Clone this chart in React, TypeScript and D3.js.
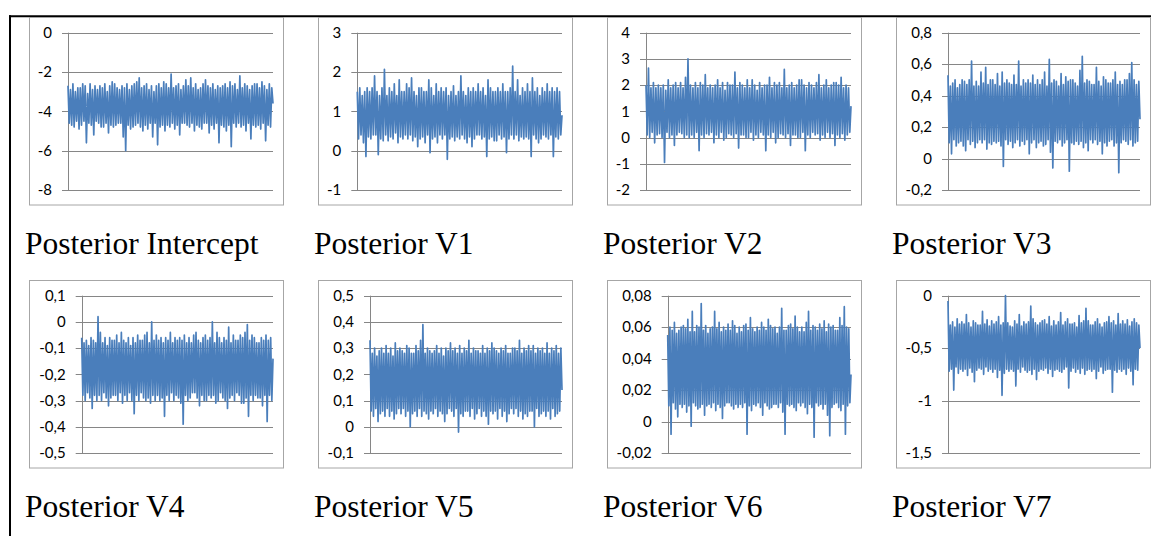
import * as d3 from "d3";

// trace panels (one array of samples per parameter)
const TITLES = [
  "Posterior Intercept",
  "Posterior V1",
  "Posterior V2",
  "Posterior V3",
  "Posterior V4",
  "Posterior V5",
  "Posterior V6",
  "Posterior V7",
];

const INTERCEPT_TICKS = [-8, -6, -4, -2, 0];
const V1_TICKS = [-1, 0, 1, 2, 3];
const V2_TICKS = [-2, -1, 0, 1, 2, 3, 4];
const V3_TICKS = [-0.2, 0, 0.2, 0.4, 0.6, 0.8];
const V4_TICKS = [-0.5, -0.4, -0.3, -0.2, -0.1, 0, 0.1];
const V5_TICKS = [-0.1, 0, 0.1, 0.2, 0.3, 0.4, 0.5];
const V6_TICKS = [-0.02, 0, 0.02, 0.04, 0.06, 0.08];
const V7_TICKS = [-1.5, -1, -0.5, 0];

const INTERCEPT = [
  -2.7, -4.6, -2.9, -4.7, -2.6, -4.8, -3.0, -4.5, -2.8, -4.9, -2.8, -4.7, -2.6, -4.5,
  -2.7, -5.6, -3.1, -4.6, -2.6, -4.7, -2.9, -5.2, -2.7, -4.5, -2.9, -4.6, -2.7, -4.8,
  -2.8, -4.8, -2.6, -4.6, -3.0, -5.1, -2.7, -4.7, -2.5, -4.8, -2.6, -4.7, -2.8, -4.6,
  -2.9, -4.6, -2.7, -5.3, -2.8, -6.0, -2.6, -4.7, -2.9, -4.9, -2.7, -4.8, -2.6, -4.7,
  -2.5, -4.6, -2.3, -4.8, -2.8, -5.0, -2.7, -4.7, -2.6, -4.9, -2.9, -4.6, -2.7, -5.3,
  -3.0, -4.6, -2.7, -5.7, -2.6, -4.8, -2.8, -4.7, -2.5, -5.0, -2.6, -4.7, -2.8, -4.8,
  -2.1, -4.6, -2.8, -4.9, -2.7, -4.7, -2.6, -5.2, -2.9, -4.6, -2.7, -4.6, -2.4, -4.7,
  -2.7, -4.8, -2.3, -4.6, -2.8, -5.0, -2.6, -4.7, -2.9, -4.8, -2.8, -4.9, -2.6, -4.6,
  -2.4, -4.6, -2.7, -5.1, -2.8, -4.7, -2.6, -4.9, -2.9, -4.6, -2.7, -5.6, -2.8, -4.7,
  -2.7, -4.8, -2.6, -5.0, -2.8, -4.7, -2.5, -5.8, -2.7, -4.6, -2.6, -4.8, -2.9, -4.6,
  -2.2, -4.8, -2.8, -4.7, -2.6, -5.0, -2.7, -4.6, -2.9, -5.4, -2.7, -4.7, -2.6, -4.8,
  -2.6, -4.7, -2.8, -4.9, -2.5, -4.6, -2.7, -5.5, -2.9, -4.7, -2.6, -4.8, -2.8, -3.6,
];

const V1 = [
  1.5, 0.3, 1.6, 0.4, 1.4, 0.2, 1.5, -0.15, 1.6, 0.35, 1.5, 0.3, 1.6, 0.4,
  1.9, 0.4, 1.5, -0.1, 1.4, 0.3, 1.6, 0.25, 2.07, 0.4, 1.4, 0.25, 1.6, 0.35,
  1.5, 0.3, 1.7, 0.45, 1.4, 0.2, 1.8, 0.35, 1.5, 0.3, 1.5, 0.4, 1.7, 0.3,
  1.6, 0.4, 1.85, 0.25, 1.5, 0.35, 1.4, 0.1, 1.6, 0.3, 1.6, 0.35, 1.5, 0.2,
  1.5, 0.4, 1.8, -0.05, 1.6, 0.3, 1.4, 0.35, 1.7, 0.2, 1.5, 0.4, 1.6, 0.3,
  1.5, 0.4, 1.6, -0.22, 1.4, 0.3, 1.5, 0.35, 1.65, 0.25, 1.4, 0.35, 1.5, 0.3,
  1.9, 0.4, 1.5, 0.3, 1.4, 0.2, 1.6, 0.35, 1.5, 0.1, 1.6, 0.3, 1.5, 0.4,
  1.7, 0.4, 1.5, 0.3, 1.6, 0.35, 1.4, -0.15, 1.8, 0.3, 1.6, 0.35, 1.5, 0.25,
  1.5, 0.25, 1.6, 0.4, 1.5, 0.3, 1.7, 0.35, 1.5, -0.05, 1.5, 0.3, 1.6, 0.4,
  2.15, 0.3, 1.5, 0.4, 1.8, 0.25, 1.4, 0.35, 1.6, 0.3, 1.5, 0.35, 1.7,
  0.3, 1.5, -0.15, 1.85, 0.4, 1.5, 0.3, 1.6, 0.2, 1.4, 0.3, 1.6, 0.4, 1.5,
  0.35, 1.7, 0.3, 1.5, 0.4, 1.6, -0.15, 1.5, 0.35, 1.6, 0.3, 1.5, 0.4, 0.9,
];

const V2 = [
  2.0, 0.1, 2.65, 0.0, 1.9, 0.2, 2.1, -0.2, 1.9, 0.1, 2.0, 0.15, 1.9, 0.0,
  2.0, -0.95, 1.8, 0.2, 2.2, 0.0, 1.9, 0.1, 2.0, -0.3, 2.1, 0.1, 1.9, 0.2,
  2.1, 0.15, 1.9, 0.0, 2.3, 0.1, 3.0, 0.0, 2.0, 0.1, 1.9, 0.0, 2.1,
  0.2, 1.9, -0.5, 2.1, 0.1, 2.0, 0.0, 2.4, 0.15, 1.9, 0.1, 2.0, 0.2, 1.9,
  -0.2, 2.0, 0.1, 2.2, 0.0, 1.9, 0.2, 2.1, -0.1, 1.8, 0.0, 2.1, 0.15, 2.0,
  0.1, 2.0, 0.0, 2.5, 0.15, 1.9, -0.4, 2.1, 0.1, 2.0, 0.1, 1.9, 0.0, 2.2,
  0.0, 1.9, 0.2, 2.2, -0.1, 2.0, 0.1, 1.8, 0.0, 2.1, 0.2, 1.9, 0.1, 2.0,
  -0.5, 2.0, 0.1, 2.3, 0.0, 1.9, 0.2, 2.1, -0.2, 2.0, 0.0, 2.1, 0.15, 1.9,
  0.1, 2.6, 0.0, 1.9, 0.15, 2.0, -0.3, 2.1, 0.1, 1.9, 0.1, 2.0, 0.0, 2.2,
  0.0, 2.2, 0.2, 2.0, -0.5, 1.9, 0.1, 2.1, 0.0, 2.0, 0.2, 1.9, 0.1, 2.1,
  0.15, 2.4, -0.1, 1.9, 0.1, 2.0, 0.0, 2.2, 0.2, 1.9, 0.0, 2.0, 0.15, 2.1,
  -0.3, 2.1, 0.1, 2.0, 0.0, 2.3, 0.15, 1.9, -0.1, 2.0, 0.1, 1.9, 0.2, 1.2,
];

const V3 = [
  0.53, 0.1, 0.46, 0.03, 0.48, 0.12, 0.5, 0.08, 0.45, 0.1, 0.47, 0.11, 0.5, 0.08,
  0.49, 0.05, 0.47, 0.12, 0.5, 0.09, 0.62, 0.11, 0.46, 0.07, 0.49, 0.1, 0.46, 0.12,
  0.55, 0.1, 0.48, 0.12, 0.58, 0.06, 0.47, 0.1, 0.5, 0.09, 0.5, 0.11, 0.47, 0.1,
  0.54, 0.11, 0.46, 0.08, 0.55, -0.05, 0.48, 0.12, 0.5, 0.09, 0.48, 0.11, 0.47,
  0.07, 0.53, 0.1, 0.47, 0.12, 0.62, 0.08, 0.46, 0.11, 0.5, 0.09, 0.48, 0.12,
  0.5, 0.03, 0.48, 0.1, 0.53, 0.12, 0.47, 0.07, 0.5, 0.1, 0.47, 0.11, 0.5, 0.08,
  0.55, 0.09, 0.46, 0.12, 0.63, 0.04, 0.48, -0.06, 0.5, 0.11, 0.49, 0.1, 0.46, 0.12,
  0.54, 0.08, 0.47, 0.1, 0.52, 0.12, 0.49, -0.08, 0.5, 0.1, 0.5, 0.09, 0.48, 0.11,
  0.46, 0.09, 0.56, 0.11, 0.65, 0.07, 0.48, 0.1, 0.5, 0.05, 0.49, 0.12, 0.47, 0.1,
  0.47, 0.12, 0.58, 0.09, 0.49, 0.11, 0.46, 0.03, 0.52, 0.1, 0.5, 0.08, 0.48, 0.11,
  0.48, 0.12, 0.5, 0.08, 0.55, 0.1, 0.47, -0.09, 0.49, 0.1, 0.47, 0.12, 0.5,
  0.11, 0.5, 0.09, 0.54, 0.12, 0.61, 0.08, 0.5, 0.1, 0.47, 0.11, 0.49, 0.25,
];

const V4 = [
  -0.06, -0.28, -0.08, -0.3, -0.07, -0.27, -0.09, -0.29, -0.06, -0.33, -0.07, -0.28, -0.08, -0.3,
  0.02, -0.28, -0.04, -0.3, -0.08, -0.27, -0.06, -0.29, -0.09, -0.32, -0.06, -0.29, -0.07, -0.28,
  -0.07, -0.28, -0.05, -0.3, -0.08, -0.27, -0.04, -0.31, -0.07, -0.28, -0.08, -0.3, -0.06, -0.27,
  -0.09, -0.3, -0.06, -0.35, -0.08, -0.28, -0.05, -0.3, -0.07, -0.27, -0.07, -0.29, -0.05, -0.3,
  -0.04, -0.29, -0.08, -0.31, 0.0, -0.28, -0.07, -0.3, -0.05, -0.28, -0.07, -0.3, -0.06,
  -0.29, -0.08, -0.36, -0.06, -0.28, -0.07, -0.3, -0.04, -0.27, -0.08, -0.3, -0.06, -0.28, -0.07,
  -0.29, -0.06, -0.31, -0.07, -0.39, -0.05, -0.28, -0.08, -0.3, -0.06, -0.29, -0.08, -0.27, -0.05,
  -0.27, -0.04, -0.29, -0.07, -0.32, -0.08, -0.28, -0.06, -0.3, -0.05, -0.3, -0.07, -0.28, -0.06,
  -0.29, 0.0, -0.28, -0.08, -0.31, -0.04, -0.3, -0.06, -0.27, -0.08, -0.29, -0.06, -0.3,
  -0.07, -0.33, -0.02, -0.29, -0.08, -0.28, -0.05, -0.3, -0.07, -0.27, -0.07, -0.28, -0.05, -0.31,
  -0.06, -0.31, -0.04, -0.29, -0.01, -0.36, -0.07, -0.28, -0.05, -0.3, -0.06, -0.28, -0.08, -0.29,
  -0.08, -0.29, -0.06, -0.32, -0.07, -0.28, -0.05, -0.38, -0.07, -0.28, -0.06, -0.3, -0.14,
];

const V5 = [
  0.33, 0.06, 0.28, 0.04, 0.3, 0.07, 0.27, 0.02, 0.29, 0.05, 0.3, 0.06, 0.28, 0.04,
  0.31, 0.07, 0.28, 0.04, 0.3, 0.06, 0.27, 0.03, 0.32, 0.05, 0.29, 0.07, 0.3, 0.05,
  0.29, 0.07, 0.28, 0.04, 0.31, 0.06, 0.3, 0.0, 0.28, 0.05, 0.28, 0.06, 0.31, 0.04,
  0.29, 0.07, 0.33, 0.04, 0.39, 0.06, 0.28, 0.05, 0.3, 0.03, 0.29, 0.06, 0.28, 0.05,
  0.29, 0.07, 0.31, 0.04, 0.28, 0.06, 0.3, 0.05, 0.27, 0.02, 0.3, 0.05, 0.29, 0.07,
  0.32, 0.06, 0.29, 0.04, 0.3, 0.07, 0.28, -0.02, 0.31, 0.05, 0.28, 0.04, 0.3, 0.06,
  0.29, 0.06, 0.33, 0.04, 0.28, 0.07, 0.3, 0.03, 0.29, 0.05, 0.29, 0.07, 0.28, 0.04,
  0.31, 0.06, 0.28, 0.04, 0.3, 0.01, 0.29, 0.06, 0.32, 0.05, 0.3, 0.06, 0.29, 0.03,
  0.28, 0.07, 0.3, 0.04, 0.29, 0.06, 0.31, 0.02, 0.28, 0.05, 0.28, 0.07, 0.3, 0.05,
  0.3, 0.07, 0.29, 0.04, 0.33, 0.06, 0.28, 0.03, 0.3, 0.05, 0.29, 0.04, 0.31, 0.06,
  0.29, 0.06, 0.31, 0.0, 0.28, 0.07, 0.3, 0.04, 0.29, 0.05, 0.3, 0.06, 0.28, 0.04,
  0.32, 0.06, 0.28, 0.03, 0.3, 0.07, 0.29, 0.04, 0.31, 0.05, 0.28, 0.06, 0.3, 0.14,
];

const V6 = [
  0.055, 0.01, 0.06, -0.008, 0.058, 0.012, 0.063, 0.008, 0.056, 0.003, 0.058, 0.011, 0.06, 0.009,
  0.061, 0.011, 0.059, 0.006, 0.065, 0.01, 0.057, -0.003, 0.07, 0.012, 0.057, 0.01, 0.061, 0.008,
  0.06, 0.009, 0.075, 0.011, 0.058, 0.004, 0.061, 0.01, 0.056, 0.011, 0.059, 0.009, 0.06,
  0.012, 0.07, 0.007, 0.059, 0.011, 0.063, 0.009, 0.057, 0.002, 0.06, 0.01, 0.058, 0.012, 0.062,
  0.012, 0.058, 0.01, 0.064, 0.008, 0.061, 0.011, 0.056, 0.009, 0.06, 0.011, 0.057, 0.009, 0.061,
  0.012, 0.062, -0.008, 0.058, 0.01, 0.066, 0.007, 0.059, 0.011, 0.057, 0.01, 0.06, 0.012, 0.058,
  0.009, 0.063, 0.004, 0.06, 0.012, 0.058, 0.01, 0.065, 0.008, 0.061, 0.009, 0.059, 0.011, 0.06,
  0.011, 0.056, 0.009, 0.06, 0.012, 0.072, 0.006, 0.058, -0.008, 0.058, 0.011, 0.061, 0.01,
  0.062, 0.011, 0.059, 0.009, 0.067, 0.007, 0.06, 0.012, 0.057, 0.01, 0.06, 0.012, 0.057, 0.009,
  0.063, 0.005, 0.07, 0.011, 0.058, 0.009, 0.061, -0.01, 0.06, 0.012, 0.058, 0.01, 0.062, 0.011,
  0.059, 0.008, 0.064, 0.011, 0.057, 0.004, 0.062, -0.009, 0.06, 0.009, 0.061, 0.011, 0.058,
  0.012, 0.058, 0.009, 0.066, 0.007, 0.061, 0.011, 0.073, -0.008, 0.06, 0.01, 0.059, 0.012, 0.03,
];

const V7 = [
  -0.05, -0.72, -0.28, -0.7, -0.25, -0.9, -0.3, -0.68, -0.22, -0.74, -0.27, -0.7, -0.25, -0.72,
  -0.27, -0.7, -0.18, -0.76, -0.26, -0.69, -0.3, -0.73, -0.24, -0.82, -0.26, -0.71, -0.28, -0.69,
  -0.28, -0.7, -0.15, -0.75, -0.27, -0.68, -0.23, -0.72, -0.29, -0.7, -0.24, -0.73, -0.27, -0.7,
  -0.25, -0.78, -0.2, -0.71, -0.28, -0.95, -0.26, -0.74, 0.0, -0.7, -0.26, -0.72, -0.29, -0.7,
  -0.3, -0.72, -0.24, -0.86, -0.27, -0.7, -0.18, -0.73, -0.29, -0.68, -0.25, -0.71, -0.27, -0.73,
  -0.25, -0.71, -0.1, -0.75, -0.22, -0.7, -0.26, -0.8, -0.28, -0.72, -0.26, -0.7, -0.24, -0.71,
  -0.23, -0.69, -0.27, -0.74, -0.2, -0.7, -0.29, -0.77, -0.24, -0.71, -0.28, -0.7, -0.25, -0.72,
  -0.16, -0.73, -0.28, -0.7, -0.25, -0.68, -0.22, -0.88, -0.27, -0.72, -0.27, -0.69, -0.26, -0.73,
  -0.3, -0.7, -0.19, -0.74, -0.26, -0.69, -0.24, -0.75, -0.12, -0.71, -0.24, -0.7, -0.28, -0.72,
  -0.28, -0.7, -0.25, -0.79, -0.22, -0.72, -0.27, -0.68, -0.3, -0.74, -0.26, -0.71, -0.25, -0.7,
  -0.2, -0.7, -0.26, -0.92, -0.24, -0.71, -0.28, -0.73, -0.17, -0.7, -0.27, -0.72, -0.24, -0.7,
  -0.27, -0.75, -0.23, -0.69, -0.29, -0.72, -0.25, -0.85, -0.22, -0.7, -0.26, -0.71, -0.28, -0.5,
];

const SERIES = [INTERCEPT, V1, V2, V3, V4, V5, V6, V7];
const TICKS = [
  INTERCEPT_TICKS, V1_TICKS, V2_TICKS, V3_TICKS,
  V4_TICKS, V5_TICKS, V6_TICKS, V7_TICKS,
];

const WIDTH = 1152;
const HEIGHT = 536;
const BOX = { left: 29, top: 17, colStep: 289, rowStep: 263, width: 254, height: 187.5 };
// gap between the box edge and the value axis, depends on tick label width
const AXIS_INSET = [39, 39.3, 39, 52, 52.7, 52, 60.7, 52];
const PLOT_TOP = 15.7;
const PLOT_BOTTOM = 173;
const PLOT_RIGHT = 10;

const LINE_COLOR = "#4a7ebb";
const GRID_COLOR = "#868686";
const BOX_COLOR = "#a6a6a6";
const TITLE_FONT = "'Times New Roman', 'Liberation Serif', Times, 'DejaVu Serif', serif";
const TICK_FONT = "Lato, 'Open Sans', sans-serif";

const fmt = (v: number) => String(+v.toFixed(6)).replace(".", ",");

function Panel({ idx }: { idx: number }) {
  const col = idx % 4;
  const row = Math.floor(idx / 4);
  const bx = BOX.left + col * BOX.colStep;
  const by = BOX.top + row * BOX.rowStep;
  const left = bx + AXIS_INSET[idx];
  const right = bx + BOX.width - PLOT_RIGHT;
  const top = by + PLOT_TOP;
  const bottom = by + PLOT_BOTTOM;

  const values = SERIES[idx];
  const ticks = TICKS[idx];

  const x = d3.scaleLinear().domain([0, values.length - 1]).range([left, right]);
  const y = d3.scaleLinear().domain(d3.extent(ticks) as [number, number]).range([bottom, top]);
  const line = d3
    .line<number>()
    .x((_, i) => x(i))
    .y((d) => y(d));

  return (
    <g>
      <rect x={bx + 0.5} y={by + 0.5} width={BOX.width} height={BOX.height} fill="#fff" stroke={BOX_COLOR} />
      {ticks.map((t) => (
        <g key={t}>
          <line x1={left - 6} x2={right} y1={Math.round(y(t)) + 0.5} y2={Math.round(y(t)) + 0.5} stroke={GRID_COLOR} />
          <text
            x={left - 16}
            y={y(t)}
            dy="0.35em"
            textAnchor="end"
            style={{ fontFamily: TICK_FONT, fontSize: 15 }}
            fill="#000"
          >
            {fmt(t)}
          </text>
        </g>
      ))}
      <line x1={Math.round(left) + 0.5} x2={Math.round(left) + 0.5} y1={top} y2={bottom} stroke={GRID_COLOR} />
      <path d={line(values) ?? ""} fill="none" stroke={LINE_COLOR} strokeWidth={1.7} strokeLinejoin="round" />
      <text
        x={bx - 4}
        y={by + 236.5}
        style={{ fontFamily: TITLE_FONT, fontSize: 31.5 }}
        fill="#000"
      >
        {TITLES[idx]}
      </text>
    </g>
  );
}

export default function App() {
  return (
    <svg
      width={WIDTH}
      height={HEIGHT}
      style={{ position: "absolute", left: 0, top: 0, background: "#fff" }}
    >
      <rect width={WIDTH} height={HEIGHT} fill="#fff" />
      <line x1={9} x2={1151} y1={16.3} y2={16.3} stroke="#000" strokeWidth={2} />
      <line x1={10} x2={10} y1={15.3} y2={HEIGHT} stroke="#000" strokeWidth={2} />
      {SERIES.map((_, i) => (
        <Panel key={i} idx={i} />
      ))}
    </svg>
  );
}
